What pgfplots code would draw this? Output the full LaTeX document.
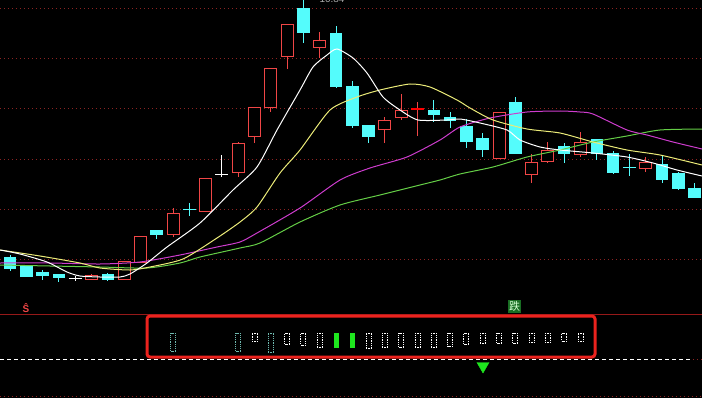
\documentclass[border=0pt]{standalone}
\usepackage{pgfplots}
\pgfplotsset{compat=1.18}
\usepackage{pgfplotstable}
\usepackage{fontspec}
\setmainfont{Liberation Sans}
\newfontfamily\cjk{Noto Sans CJK SC}
\definecolor{cdown}{RGB}{84,252,252}
\definecolor{cup}{RGB}{240,70,70}
\definecolor{maY}{RGB}{235,235,120}
\definecolor{maM}{RGB}{205,60,205}
\definecolor{maG}{RGB}{100,205,70}
\definecolor{gridred}{RGB}{140,35,35}
\definecolor{sepred}{RGB}{150,25,25}
\definecolor{boxred}{RGB}{235,35,30}
\definecolor{tealx}{RGB}{110,185,175}
\definecolor{sigG}{RGB}{30,230,30}
\definecolor{dieG}{RGB}{25,110,35}

\pgfplotsset{
  vbar/.style 2 args={draw=none, error bars/.cd, y dir=both, y explicit, error mark=none,
    error bar style={draw=#1, line width=#2}},
  hbar/.style 2 args={draw=none, error bars/.cd, x dir=both, x fixed=2.5, error mark=none,
    error bar style={draw=#1, line width=#2, dash pattern=on 1bp off 1bp}},
}

% falling candles (cyan): index, open, close, high, low (pixel rows)
\pgfplotstableread{
i o c h l
0 257 268 255 271
1 266 276 265 277
2 272 275 270 280
3 274 277 274 282
6 274 279 273 281
9 230 234 230 239
18 9 33 -2 43
20 34 87 26 88
21 87 126 81 128
22 126 137 125 143
26 111 114 100 122
27 118 121 112 128
28 127 142 119 148
29 138 149 133 157
31 103 153 97 153
34 147 154 143 163
36 140 154 139 160
37 153 172 151 174
40 165 179 155 183
41 173 188 172 190
42 188 197 183 198
}\downT

% rising candles (red hollow)
\pgfplotstableread{
i o c h l
5 279 275 274 280
7 279 261 261 279
8 262 236 236 262
10 234 213 208 237
12 211 178 178 212
14 173 144 142 177
15 137 108 108 143
16 108 69 69 112
17 57 25 25 69
19 48 41 32 58
23 130 121 117 143
24 117 111 94 120
30 159 113 112 159
32 175 163 154 183
33 162 151 142 163
35 154 142 132 157
39 169 163 157 172
}\upT

% doji crosses
\pgfplotstableread{
i v h l
4 278 276 281
13 174 155 177
}\dojiW
\pgfplotstableread{
i v h l
11 209 203 216
38 167 154 176
}\dojiC
\pgfplotstableread{
i v h l
25 109 102 136
}\dojiR

% lower panel signals: index, top, height
\pgfplotstableread{
i t hh
15 333 8
17 333 11
18 333 12
19 333 14
22 333 15
23 333 14
24 333 14
25 333 14
26 333 14
27 333 13
28 333 11
29 333 10
30 333 10
31 333 10
32 333 9
33 333 9
34 333 8
35 333 8
}\sigW
\pgfplotstableread{
i t hh
10 333 18
14 333 18
16 333 19
}\sigT
\pgfplotstableread{
i t hh
20 333 15
21 333 15
}\sigG

\begin{document}
\begin{tikzpicture}
\fill[black] (0,0) rectangle (702bp,398bp);
\begin{axis}[at={(0,0)}, anchor=south west, scale only axis,
  width=702bp, height=398bp,
  xmin=0, xmax=702, ymin=0, ymax=398, y dir=reverse,
  axis line style={draw=none}, xtick=\empty,
  ytick={9,59,109,159,209,259}, yticklabels={}, major tick length=0pt,
  ymajorgrids, grid style={gridred, line width=1bp, dash pattern=on 1bp off 3bp},
  clip=true]

% separator and lower panel lines
\addplot[sepred, line width=1bp] coordinates {(0,314) (702,314)};
\addplot[white, line width=1bp, dash pattern=on 4bp off 3bp] coordinates {(0,359) (693,359)};
\addplot[gridred, line width=1bp, dash pattern=on 1bp off 3bp] coordinates {(693,359) (702,359)};
\addplot[gridred, line width=1bp, dash pattern=on 1bp off 3bp] coordinates {(0,396) (702,396)};

% wicks
\addplot[vbar={cdown}{1bp}]
  table[x expr=10+16.3*\thisrow{i}, y expr=(\thisrow{h}+\thisrow{l})/2, y error expr=(\thisrow{l}-\thisrow{h})/2]{\downT};
\addplot[vbar={cup}{1bp}]
  table[x expr=10+16.3*\thisrow{i}, y expr=(\thisrow{h}+\thisrow{l})/2, y error expr=(\thisrow{l}-\thisrow{h})/2]{\upT};
% bodies
\addplot[vbar={cdown}{12.5bp}]
  table[x expr=10+16.3*\thisrow{i}, y expr=(\thisrow{o}+\thisrow{c})/2, y error expr=(\thisrow{c}-\thisrow{o})/2+0.5]{\downT};
\addplot[vbar={cup}{13bp}]
  table[x expr=10+16.3*\thisrow{i}, y expr=(\thisrow{o}+\thisrow{c})/2, y error expr=(\thisrow{o}-\thisrow{c})/2+0.5]{\upT};
\addplot[vbar={black}{11bp}]
  table[x expr=10+16.3*\thisrow{i}, y expr=(\thisrow{o}+\thisrow{c})/2, y error expr=(\thisrow{o}-\thisrow{c})/2-0.5]{\upT};
% doji crosses
\addplot[draw=none, error bars/.cd, x dir=both, x fixed=6.5, y dir=both, y explicit, error mark=none,
  error bar style={draw=white, line width=1bp}]
  table[x expr=10+16.3*\thisrow{i}, y=v, y error plus expr=\thisrow{l}-\thisrow{v}, y error minus expr=\thisrow{v}-\thisrow{h}]{\dojiW};
\addplot[draw=none, error bars/.cd, x dir=both, x fixed=6.5, y dir=both, y explicit, error mark=none,
  error bar style={draw=cdown, line width=1bp}]
  table[x expr=10+16.3*\thisrow{i}, y=v, y error plus expr=\thisrow{l}-\thisrow{v}, y error minus expr=\thisrow{v}-\thisrow{h}]{\dojiC};
\addplot[draw=none, error bars/.cd, y dir=both, y explicit, error mark=none,
  error bar style={draw=cup, line width=1bp}]
  table[x expr=10+16.3*\thisrow{i}, y=v, y error plus expr=\thisrow{l}-\thisrow{v}, y error minus expr=\thisrow{v}-\thisrow{h}]{\dojiR};
\addplot[draw=none, error bars/.cd, x dir=both, x fixed=6.5, error mark=none,
  error bar style={draw=red, line width=2.5bp}]
  table[x expr=10+16.3*\thisrow{i}, y=v]{\dojiR};

% moving averages
\addplot[maG, line width=1bp, smooth, tension=0.4] coordinates {
(0,265) (50,266) (100,267) (147,268) (180,263) (200,257) (240,248) (260,243) (300,222) (340,205) (380,195) (420,185) (440,180) (460,174) (493,167) (527,157) (560,150) (593,142) (627,136) (660,130) (702,129)};
\addplot[maM, line width=1bp, smooth, tension=0.4] coordinates {
(0,263) (50,263) (100,264) (140,262) (180,255) (217,247) (240,242) (257,233) (300,208) (340,180) (370,168) (407,157) (440,140) (460,127) (490,118) (527,112) (560,111) (580,112) (593,114) (627,130) (647,135) (673,142) (702,149)};
\addplot[maY, line width=1bp, smooth, tension=0.4] coordinates {
(0,250) (40,256) (80,263) (100,268) (130,270) (150,267) (183,259) (217,238) (240,222) (257,207) (280,173) (300,150) (330,110) (357,97) (380,90) (410,84) (430,87) (457,100) (470,108) (493,120) (527,129) (560,133) (593,142) (627,150) (660,155) (702,165)};
\addplot[white, line width=1bp, smooth, tension=0.4] coordinates {
(0,250) (20,254) (47,262) (67,272) (80,276) (100,277) (120,277) (130,274) (147,263) (167,247) (200,223) (233,190) (257,167) (277,130) (300,90) (313,67) (327,55) (337,49) (353,58) (367,73) (383,97) (400,110) (418,120) (447,120) (460,119) (480,123) (507,130) (520,140) (540,147) (560,150) (593,153) (627,157) (653,163) (677,170) (702,176)};

% lower panel signals: dotted outlines (left side, right side, top edge, bottom edge)
\addplot[vbar={white}{1bp}, error bar style={dash pattern=on 1bp off 1bp}]
  table[x expr=10+16.3*\thisrow{i}-2.5, y expr=\thisrow{t}+\thisrow{hh}/2, y error expr=\thisrow{hh}/2]{\sigW};
\addplot[vbar={white}{1bp}, error bar style={dash pattern=on 1bp off 1bp}]
  table[x expr=10+16.3*\thisrow{i}+2.5, y expr=\thisrow{t}+\thisrow{hh}/2, y error expr=\thisrow{hh}/2]{\sigW};
\addplot[hbar={white}{1bp}] table[x expr=10+16.3*\thisrow{i}, y=t]{\sigW};
\addplot[hbar={white}{1bp}] table[x expr=10+16.3*\thisrow{i}, y expr=\thisrow{t}+\thisrow{hh}]{\sigW};
\addplot[vbar={tealx}{1bp}, error bar style={dash pattern=on 1bp off 1bp}]
  table[x expr=10+16.3*\thisrow{i}-2.5, y expr=\thisrow{t}+\thisrow{hh}/2, y error expr=\thisrow{hh}/2]{\sigT};
\addplot[vbar={tealx}{1bp}, error bar style={dash pattern=on 1bp off 1bp}]
  table[x expr=10+16.3*\thisrow{i}+2.5, y expr=\thisrow{t}+\thisrow{hh}/2, y error expr=\thisrow{hh}/2]{\sigT};
\addplot[hbar={tealx}{1bp}] table[x expr=10+16.3*\thisrow{i}, y=t]{\sigT};
\addplot[hbar={tealx}{1bp}] table[x expr=10+16.3*\thisrow{i}, y expr=\thisrow{t}+\thisrow{hh}]{\sigT};
\addplot[vbar={sigG}{5bp}]
  table[x expr=10+16.3*\thisrow{i}, y expr=\thisrow{t}+\thisrow{hh}/2, y error expr=\thisrow{hh}/2]{\sigG};
\addplot[only marks, sigG, mark=triangle*, mark size=7bp, mark options={rotate=180}] coordinates {(483,366)};

\draw[boxred, line width=3bp, rounded corners=3bp] (axis cs:147,316) rectangle (axis cs:595,357);
\node[text=cup, font=\fontsize{10}{10}\selectfont\bfseries, inner sep=0pt] at (axis cs:26,308) {Ŝ};
\node[fill=dieG, text={rgb,255:red,210;green,255;blue,210}, minimum size=13bp, inner sep=0pt,
  font=\cjk\fontsize{11}{11}\selectfont] at (axis cs:514.5,306.5) {跌};
\node[text={rgb,255:red,170;green,170;blue,170}, font=\fontsize{10}{10}\selectfont, inner sep=0pt] at (axis cs:332,-1) {10.84};
\end{axis}
\pgfresetboundingbox
\path (0,0) rectangle (702bp,398bp);
\end{tikzpicture}
\end{document}
